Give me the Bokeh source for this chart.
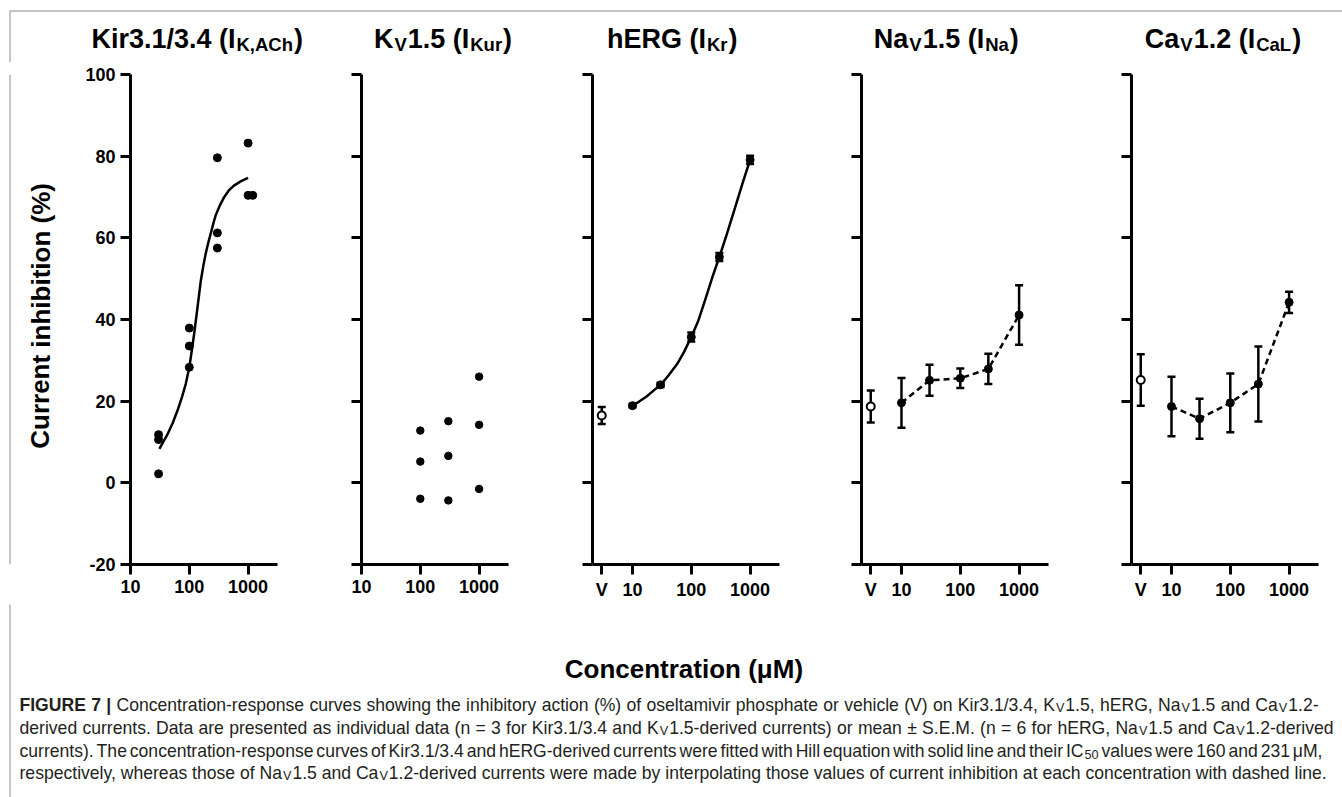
import glob, os, re
from bokeh.plotting import figure
from bokeh.layouts import row, column
from bokeh.models import (Range1d, FixedTicker, ColumnDataSource, Whisker, TeeHead,
                          BasicTickFormatter, Label)
from bokeh.embed import file_html
from bokeh.resources import INLINE

try:
    from PIL import ImageFont
except Exception:
    ImageFont = None

# ---------------- data ----------------
# Kir3.1/3.4 individual data (n = 3)
kir_conc = [30, 30, 30, 100, 100, 100, 300, 300, 300, 1000, 1000, 1200]
kir_inh = [11.8, 10.6, 2.2, 37.9, 33.5, 28.3, 79.6, 61.2, 57.5, 83.2, 70.4, 70.4]
# Hill fit curve
kir_fit_conc = [31, 36, 43, 52, 63, 75, 87, 100, 110, 121, 138, 157, 175, 190, 210, 231,
                255, 281, 330, 389, 470, 574, 760, 1000]
kir_fit_inh = [8.3, 10.0, 12.0, 14.6, 17.7, 21.0, 24.2, 28.3, 32.3, 36.5, 43.0, 49.5, 53.5,
               56.1, 58.8, 61.0, 63.4, 65.5, 67.9, 69.9, 71.6, 72.8, 73.9, 74.7]

# Kv1.5 individual data (n = 3)
kv_conc = [100, 100, 100, 300, 300, 300, 1000, 1000, 1000]
kv_inh = [12.8, 5.2, -3.9, 15.1, 6.6, -4.3, 26.0, 14.2, -1.5]

# hERG mean +/- SEM
herg_conc = [10, 30, 100, 300, 1000]
herg_mean = [18.9, 24.0, 35.7, 55.3, 79.1]
herg_sem = [0.4, 0.5, 1.1, 1.0, 1.0]
herg_v_mean = [16.5]
herg_v_sem = [2.1]
herg_fit_conc = [10, 13, 17.6, 22, 30, 40, 57.4, 75, 100, 130, 175, 230, 300, 400, 547, 750, 1000]
herg_fit_inh = [18.9, 19.9, 21.2, 22.4, 24.0, 26.1, 29.1, 32.0, 35.7, 39.5, 45.1, 50.5, 55.3,
                60.8, 67.1, 73.5, 79.1]

# NaV1.5 mean +/- SEM
na_conc = [10, 30, 100, 300, 1000]
na_mean = [19.6, 25.1, 25.6, 27.9, 41.1]
na_sem = [6.1, 3.8, 2.4, 3.7, 7.3]
na_v_mean = [18.7]
na_v_sem = [3.9]

# CaV1.2 mean +/- SEM
ca_conc = [10, 30, 100, 300, 1000]
ca_mean = [18.7, 15.7, 19.6, 24.2, 44.2]
ca_sem = [7.3, 4.9, 7.2, 9.2, 2.6]
ca_v_mean = [25.2]
ca_v_sem = [6.3]

# axis ticks / labels
y_ticks = [-20, 0, 20, 40, 60, 80, 100]
y_labels = ["-20", "0", "20", "40", "60", "80", "100"]
x_ticks = [10, 100, 1000]
x_labels = ["10", "100", "1000"]
v_label = "V"

titles = ["Kir3.1/3.4 (I_{K,ACh})", "K_{V}1.5 (I_{Kur})", "hERG (I_{Kr})",
          "Na_{V}1.5 (I_{Na})", "Ca_{V}1.2 (I_{CaL})"]
y_title = "Current inhibition (%)"
x_title = "Concentration (\u03bcM)"
caption_lines = [
    "**FIGURE 7 |** Concentration-response curves showing the inhibitory action (%) of oseltamivir phosphate or vehicle (V) on Kir3.1/3.4, K_{V}1.5, hERG, Na_{V}1.5 and Ca_{V}1.2-",
    "derived currents. Data are presented as individual data (n = 3 for Kir3.1/3.4 and K_{V}1.5-derived currents) or mean \u00b1 S.E.M. (n = 6 for hERG, Na_{V}1.5 and Ca_{V}1.2-derived",
    "currents). The concentration-response curves of Kir3.1/3.4 and hERG-derived currents were fitted with Hill equation with solid line and their IC_{50} values were 160 and 231 \u03bcM,",
    "respectively, whereas those of Na_{V}1.5 and Ca_{V}1.2-derived currents were made by interpolating those values of current inhibition at each concentration with dashed line.",
]

# ---------------- layout constants (pixels) ----------------
V_POS = 3.0                      # where the vehicle category sits on the log axis
X_RANGE_A = (10, 3162.3)         # Kir / Kv panels
X_RANGE_B = (2.09, 3162.3)       # hERG / Na / Ca panels
TOTAL_W = 1342
TITLE_H = 62
PANEL_H = 542
BOTTOM_H = 193
FONT = "Liberation Sans"
BORDER = "#8a8a8a"
BORDER_X = 9.5
RUN_GAP = 1.0                                # tiny gap between adjacent text runs
CAP_LEFT = 19
CAP_RIGHT = [1318, 1333, 1322, None]        # justified right edges (None = ragged)
CAP_BASE = [93, 70, 47, 25]                 # baselines, px from bottom of lower strip


# ---------------- text measuring ----------------
def _find(fname):
    roots = ["/usr/share/fonts", "/usr/local/share/fonts",
             os.path.expanduser("~/.fonts"), os.path.expanduser("~/.local/share/fonts")]
    for r in roots:
        hits = glob.glob(os.path.join(r, "**", fname), recursive=True)
        if hits:
            return hits[0]
    return None


FONT_FILES = {
    ("Liberation Sans", False): "LiberationSans-Regular.ttf",
    ("Liberation Sans", True): "LiberationSans-Bold.ttf",
    ("Liberation Sans Narrow", False): "LiberationSansNarrow-Regular.ttf",
    ("Liberation Sans Narrow", True): "LiberationSansNarrow-Bold.ttf",
}
_cache = {}


def _font(family, bold):
    key = (family, bold)
    if key not in _cache:
        f = None
        path = _find(FONT_FILES.get(key, ""))
        if path and ImageFont is not None:
            try:
                f = ImageFont.truetype(path, 100)
            except Exception:
                f = None
        _cache[key] = f
    return _cache[key]


def measure(text, family, bold, size):
    f = _font(family, bold)
    if f is None:
        w = 0.6 if bold else 0.52
        if "Narrow" in family:
            w *= 0.82
        return len(text) * size * w
    return f.getlength(text) * size / 100.0


CAP_FONT = "Liberation Sans Narrow" if _font("Liberation Sans Narrow", False) is not None else FONT


def markup_runs(s, family, size, bold=False, sub_scale=0.68, sub_dy=5.0):
    out = []
    for tok in re.split(r"(\*\*.*?\*\*|_\{.*?\})", s):
        if not tok:
            continue
        if tok.startswith("**"):
            out.append((tok[2:-2], family, True, size, 0.0))
        elif tok.startswith("_{"):
            out.append((tok[2:-1], family, bold, size * sub_scale, -sub_dy))
        else:
            out.append((tok, family, bold, size, 0.0))
    return out


def words_from_runs(runs):
    words = [[]]
    for (t, f, b, s, dy) in runs:
        parts = t.split(" ")
        for i, part in enumerate(parts):
            if i > 0:
                words.append([])
            if part:
                words[-1].append((part, f, b, s, dy))
    return [w for w in words if w]


def run_w(r):
    t, f, b, s, dy = r
    return measure(t, f, b, s)


def runs_total(runs):
    return sum(run_w(r) for r in runs) + RUN_GAP * max(len(runs) - 1, 0)


def put(p, x, y, text, family, bold, size, color="black", align="left",
        baseline="alphabetic", angle=0.0):
    p.add_layout(Label(x=x, y=y, text=text, text_font=family,
                       text_font_style="bold" if bold else "normal",
                       text_font_size=f"{size:.2f}px", text_color=color,
                       text_align=align, text_baseline=baseline, angle=angle))


def draw_runs(p, x, y, runs, align="left", color="black"):
    widths = [run_w(r) for r in runs]
    if align == "center":
        x -= runs_total(runs) / 2.0
    for (t, f, b, s, dy), w in zip(runs, widths):
        stripped = t.lstrip(" ")
        lead = measure(t[:len(t) - len(stripped)], f, b, s) if stripped != t else 0.0
        t2 = stripped.rstrip(" ")
        if t2:
            put(p, x + lead, y + dy, t2, f, b, s, color=color)
        x += w + RUN_GAP


def pixel_fig(w, h):
    p = figure(width=w, height=h, x_range=Range1d(0, w), y_range=Range1d(0, h),
               min_border=0, toolbar_location=None, output_backend="svg", title=None,
               x_axis_location=None, y_axis_location=None, outline_line_color=None)
    p.grid.visible = False
    return p


def style_axis(ax):
    ax.axis_line_width = 3
    ax.axis_line_color = "black"
    ax.major_tick_line_width = 3
    ax.major_tick_line_color = "black"
    ax.major_tick_in = 0
    ax.major_tick_out = 10
    ax.minor_tick_line_color = None
    ax.major_label_text_font = FONT
    ax.major_label_text_font_style = "bold"
    ax.major_label_text_font_size = "18px"
    ax.major_label_text_color = "black"
    ax.major_label_standoff = 5


def panel(width, left, right, xr, with_v, show_ylabels):
    p = figure(width=width, height=PANEL_H, x_axis_type="log", title=None,
               x_range=Range1d(*xr), y_range=Range1d(-20, 100),
               min_border_left=left, min_border_right=right,
               min_border_top=12, min_border_bottom=40,
               toolbar_location=None, output_backend="svg", outline_line_color=None)
    p.grid.visible = False
    ticks = ([V_POS] if with_v else []) + x_ticks
    labels = ([v_label] if with_v else []) + x_labels
    p.xaxis.ticker = FixedTicker(ticks=ticks, minor_ticks=[])
    p.xaxis.formatter = BasicTickFormatter()
    p.xaxis.major_label_overrides = {t: l for t, l in zip(ticks, labels)}
    p.yaxis.ticker = FixedTicker(ticks=y_ticks, minor_ticks=[])
    if show_ylabels:
        p.yaxis.major_label_overrides = {t: l for t, l in zip(y_ticks, y_labels)}
    else:
        p.yaxis.major_label_overrides = {t: "" for t in y_ticks}
    style_axis(p.xaxis[0])
    style_axis(p.yaxis[0])
    return p


def add_err(p, x, mean, sem):
    src = ColumnDataSource(dict(x=x, lo=[m - s for m, s in zip(mean, sem)],
                                hi=[m + s for m, s in zip(mean, sem)]))
    w = Whisker(base="x", lower="lo", upper="hi", source=src, dimension="height",
                line_width=2.5, line_color="black",
                upper_head=TeeHead(size=8, line_width=2.5, line_color="black"),
                lower_head=TeeHead(size=8, line_width=2.5, line_color="black"))
    p.add_layout(w)


# ---------------- panels ----------------
p1 = panel(227, 60, 20, X_RANGE_A, False, True)
p1.line(kir_fit_conc, kir_fit_inh, line_width=2.5, line_color="black", line_join="round")
p1.scatter(kir_conc, kir_inh, size=8, color="black")

p2 = panel(231, 64, 20, X_RANGE_A, False, False)
p2.scatter(kv_conc, kv_inh, size=7.5, color="black")

p3 = panel(271, 64, 20, X_RANGE_B, True, False)
p3.line(herg_fit_conc, herg_fit_inh, line_width=2.5, line_color="black", line_join="round")
add_err(p3, herg_conc, herg_mean, herg_sem)
add_err(p3, [V_POS], herg_v_mean, herg_v_sem)
p3.scatter(herg_conc, herg_mean, size=8, color="black")
p3.scatter([V_POS], herg_v_mean, size=8, fill_color="white", line_color="black", line_width=2)

p4 = panel(269, 62, 20, X_RANGE_B, True, False)
p4.line(na_conc, na_mean, line_width=2.5, line_color="black", line_dash="6 4")
add_err(p4, na_conc, na_mean, na_sem)
add_err(p4, [V_POS], na_v_mean, na_v_sem)
p4.scatter(na_conc, na_mean, size=8, color="black")
p4.scatter([V_POS], na_v_mean, size=8, fill_color="white", line_color="black", line_width=2)

p5 = panel(274, 63, 24, X_RANGE_B, True, False)
p5.line(ca_conc, ca_mean, line_width=2.5, line_color="black", line_dash="6 4")
add_err(p5, ca_conc, ca_mean, ca_sem)
add_err(p5, [V_POS], ca_v_mean, ca_v_sem)
p5.scatter(ca_conc, ca_mean, size=8, color="black")
p5.scatter([V_POS], ca_v_mean, size=8, fill_color="white", line_color="black", line_width=2)

# ---------------- title strip ----------------
tfig = pixel_fig(TOTAL_W, TITLE_H)
tfig.line([BORDER_X, TOTAL_W], [TITLE_H - 10.5, TITLE_H - 10.5], line_color=BORDER, line_width=1)
tfig.line([BORDER_X, BORDER_X], [0, TITLE_H - 10.5], line_color=BORDER, line_width=1)
title_centers = [196.7, 442.5, 671.7, 945.8, 1222.5]
for t, cx in zip(titles, title_centers):
    draw_runs(tfig, cx, 23.5, markup_runs(t, FONT, 27, bold=True, sub_scale=18.5 / 27, sub_dy=5.0),
              align="center")

# ---------------- y title ----------------
yfig = pixel_fig(70, PANEL_H)
yfig.line([BORDER_X, BORDER_X], [0, PANEL_H], line_color=BORDER, line_width=1)
put(yfig, 40, PANEL_H - 267, y_title, FONT, True, 26, align="center",
    baseline="middle", angle=1.5707963)

# ---------------- bottom: x title + caption ----------------
bfig = pixel_fig(TOTAL_W, BOTTOM_H)
bfig.line([BORDER_X, BORDER_X], [0, BOTTOM_H], line_color=BORDER, line_width=1)
draw_runs(bfig, 683.4, 129, [(x_title, FONT, True, 26, 0.0)], align="center")

# caption font size: the justified lines must fit with word gaps >= 0.6 space
cap_words_1 = [words_from_runs(markup_runs(l, CAP_FONT, 1.0, sub_scale=0.72, sub_dy=0.0))
               for l in caption_lines]
space_1 = measure(" ", CAP_FONT, False, 1.0)
sizes = []
for words, right in zip(cap_words_1, CAP_RIGHT):
    need = sum(run_w(r) for w in words for r in w) + 0.6 * space_1 * (len(words) - 1)
    target = (right if right is not None else TOTAL_W - 8) - CAP_LEFT
    sizes.append(target / max(need, 1e-6))
cap_size = max(11.0, min(min(sizes), 21.0))

for line, yb, right in zip(caption_lines, CAP_BASE, CAP_RIGHT):
    words = words_from_runs(markup_runs(line, CAP_FONT, cap_size, sub_scale=0.72,
                                        sub_dy=0.22 * cap_size))
    wsum = [runs_total(w) for w in words]
    space = measure(" ", CAP_FONT, False, cap_size)
    if right is not None and len(words) > 1:
        gap = (right - CAP_LEFT - sum(wsum)) / (len(words) - 1)
    else:
        gap = space
    x = CAP_LEFT
    for w, ww in zip(words, wsum):
        draw_runs(bfig, x, yb, w, color="#231f20")
        x += ww + gap

layout = column(tfig, row(yfig, p1, p2, p3, p4, p5), bfig)
open("out.html", "w").write(file_html(layout, INLINE))
